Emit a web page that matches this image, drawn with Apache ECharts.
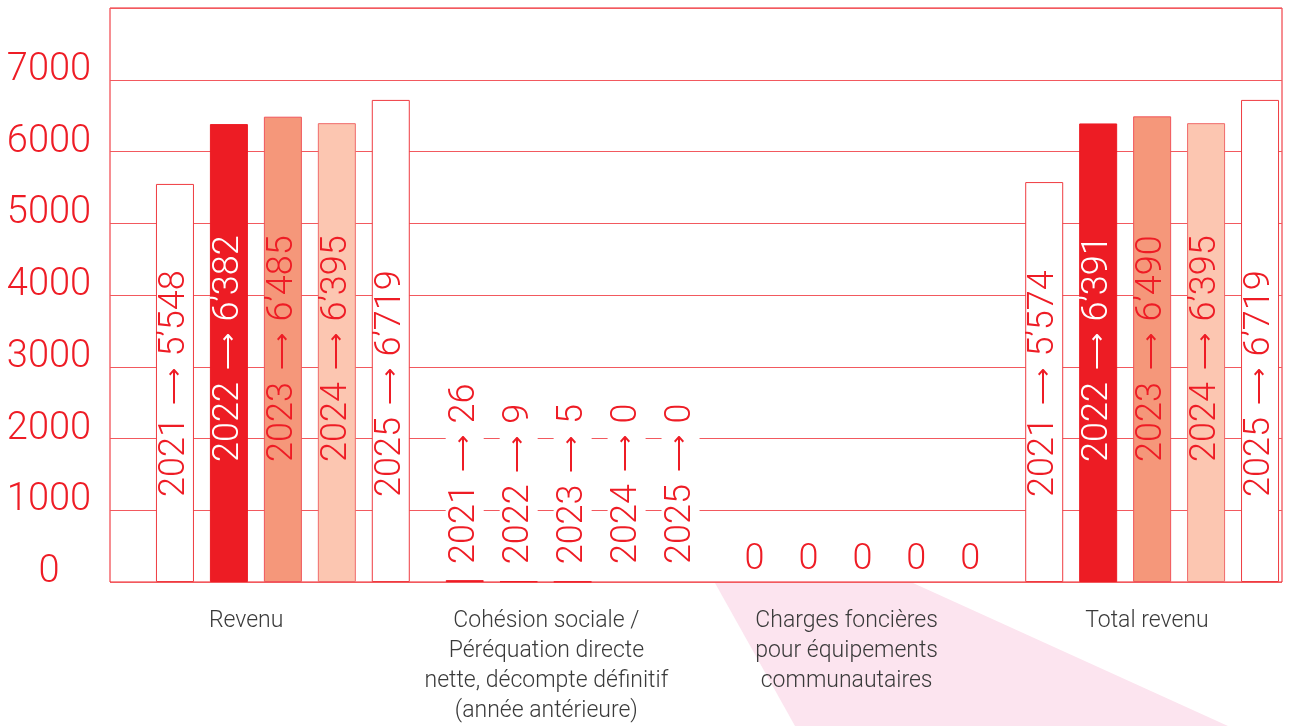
<!DOCTYPE html>
<html>
<head>
<meta charset="utf-8">
<script src="https://cdn.jsdelivr.net/npm/echarts@6/dist/echarts.min.js"></script>
<style>
html,body{margin:0;padding:0;background:#fff;}
#chart{width:1297px;height:726px;}
</style>
</head>
<body>
<div id="chart"></div>
<script>
var categories = [
  'Revenu',
  'Cohésion sociale /\nPéréquation directe\nnette, décompte définitif\n(année antérieure)',
  'Charges foncières\npour équipements\ncommunautaires',
  'Total revenu'
];
var years = ['2021', '2022', '2023', '2024', '2025'];
var values2021 = [5548, 26, 0, 5574];
var values2022 = [6382, 9, 0, 6391];
var values2023 = [6485, 5, 0, 6490];
var values2024 = [6395, 0, 0, 6395];
var values2025 = [6719, 0, 0, 6719];
var yTicks = [0, 1000, 2000, 3000, 4000, 5000, 6000, 7000];

var seriesValues = [values2021, values2022, values2023, values2024, values2025];

var RED = '#ee1c25';
var FONT = "Roboto, 'Liberation Sans', Arial, sans-serif";
var FW = 300;

var barStyles = [
  {fill: '#ffffff', border: '#ef3b40', text: RED, dist: 85},
  {fill: '#ed1c24', border: '#ed1c24', text: '#ffffff', dist: 120},
  {fill: '#f5977a', border: '#f0555a', text: RED, dist: 120},
  {fill: '#fcc6b1', border: '#f06a6a', text: RED, dist: 120},
  {fill: '#ffffff', border: '#ef3b40', text: RED, dist: 85}
];

function fmt(n) {
  if (n >= 1000) {
    var r = String(n % 1000);
    while (r.length < 3) r = '0' + r;
    return Math.floor(n / 1000) + '\u2019' + r;
  }
  return String(n);
}

function richFor(color) {
  return {
    a: {fontFamily: "'DejaVu Sans', sans-serif", fontSize: 26, color: color, padding: [0, 3, 0, 3]}
  };
}

var series = seriesValues.map(function (vals, si) {
  var st = barStyles[si];
  return {
    type: 'bar',
    name: years[si],
    xAxisIndex: 0,
    yAxisIndex: 0,
    barWidth: 38,
    barGap: '42%',
    itemStyle: {color: st.fill, borderColor: st.border, borderWidth: 1},
    label: {
      show: true,
      position: 'insideBottom',
      distance: st.dist,
      rotate: 90,
      align: 'left',
      verticalAlign: 'middle',
      color: st.text,
      fontSize: 36,
      fontWeight: FW,
      fontFamily: FONT,
      rich: richFor(st.text),
      formatter: function (p) { return years[si] + ' {a|\u27F6} ' + fmt(p.value); }
    },
    data: vals.map(function (v, ci) {
      var item = {value: v};
      if (v === 0) {
        item.itemStyle = {color: 'transparent', borderWidth: 0};
      }
      if (ci === 1) {
        if (v !== 0) item.itemStyle = {color: RED, borderColor: RED};
        item.label = {
          show: true,
          position: 'insideBottom',
          distance: 15,
          rotate: 90,
          align: 'left',
          verticalAlign: 'middle',
          color: RED,
          backgroundColor: '#ffffff',
          padding: [1, 3],
          fontSize: 36,
          fontWeight: FW,
          fontFamily: FONT,
          rich: richFor(RED)
        };
      }
      if (ci === 2) {
        item.label = {
          show: true,
          position: 'top',
          distance: 4,
          rotate: 0,
          align: 'center',
          verticalAlign: 'bottom',
          color: RED,
          fontSize: 36,
          fontWeight: FW,
          fontFamily: FONT,
          formatter: function (p) { return String(p.value); }
        };
      }
      return item;
    })
  };
});

var chart = echarts.init(document.getElementById('chart'));
chart.setOption({
  animation: false,
  backgroundColor: '#ffffff',
  grid: [
    {left: 138, width: 1160, top: 8, bottom: 144},
    {left: 110, right: 15, top: 8, bottom: 144, show: true, borderColor: RED, borderWidth: 1, backgroundColor: 'transparent', z: 0},
    {left: 96, width: 1210, top: 8, bottom: 144}
  ],
  graphic: {
    elements: [{
      type: 'polygon',
      z: -10,
      silent: true,
      shape: {points: [[715, 583], [913, 583], [1228, 726], [795, 726]]},
      style: {fill: '#fce4ef'}
    }]
  },
  xAxis: [
    {type: 'category', gridIndex: 0, data: categories, show: false},
    {type: 'category', gridIndex: 1, data: categories, show: false},
    {
      type: 'category', gridIndex: 2, data: categories,
      axisLine: {show: false}, axisTick: {show: false}, splitLine: {show: false},
      axisLabel: {
        interval: 0, margin: 25, color: '#3a3a3a', fontSize: 23, lineHeight: 30,
        fontFamily: FONT, fontWeight: FW, align: 'center'
      }
    }
  ],
  yAxis: [
    {type: 'value', gridIndex: 0, min: 0, max: 8000, interval: 1000, show: false, splitLine: {show: false}},
    {
      type: 'value', gridIndex: 1, min: 0, max: 8000, interval: 1000,
      axisLine: {show: false}, axisTick: {show: false},
      splitLine: {show: true, lineStyle: {color: '#f2595e', width: 1}},
      axisLabel: {
        margin: 61, align: 'center', verticalAlign: 'bottom', lineHeight: 19,
        color: RED, fontSize: 38, fontWeight: FW, fontFamily: FONT,
        formatter: function (v) { return yTicks.indexOf(v) >= 0 ? String(v) : ''; }
      }
    },
    {type: 'value', gridIndex: 2, min: 0, max: 8000, show: false, splitLine: {show: false}}
  ],
  series: series
});
</script>
</body>
</html>
